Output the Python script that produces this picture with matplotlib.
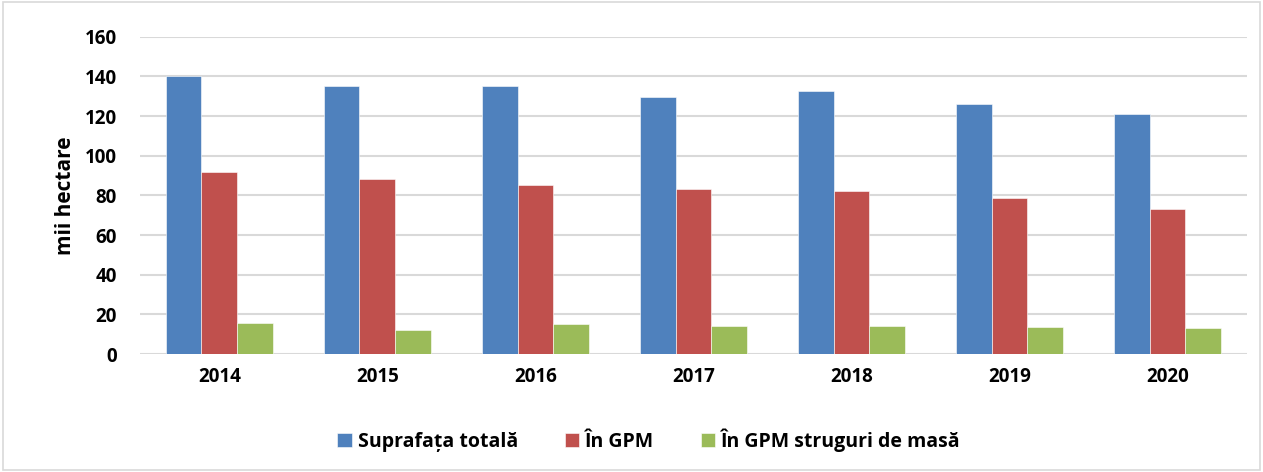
import numpy as np
from matplotlib import pyplot as plt
from matplotlib.patches import Rectangle

years = ['2014', '2015', '2016', '2017', '2018', '2019', '2020']
suprafata = [140.3, 135.1, 135.0, 129.4, 132.8, 125.9, 121.1]
in_gpm = [91.7, 88.5, 85.4, 83.2, 82.2, 78.9, 73.3]
gpm_masa = [15.5, 12.1, 15.1, 14.3, 14.0, 13.6, 13.1]
names = ['Suprafața totală', 'În GPM', 'În GPM struguri de masă']
colors = ['#4F81BD', '#C0504D', '#9BBB59']

plt.rcParams['font.family'] = ['Open Sans', 'DejaVu Sans']
plt.rcParams['font.weight'] = 'bold'

fig = plt.figure(figsize=(12.63, 4.72), dpi=100)
ax = fig.add_axes([0.111, 0.25, 0.876, 0.672])

x = np.arange(len(years))
w = 0.225
for i, vals in enumerate([suprafata, in_gpm, gpm_masa]):
    ax.bar(x + (i - 1) * w, vals, w, color=colors[i], label=names[i], zorder=3,
           edgecolor='white', linewidth=0.4)

ax.set_xlim(-0.5, len(years) - 0.5)
ax.set_ylim(0, 160)
ax.set_yticks(range(0, 161, 20))
ax.set_xticks(x)
ax.set_xticklabels(years, fontweight='bold')
for t in ax.get_yticklabels():
    t.set_fontweight('bold')
ax.grid(axis='y', color='#d9d9d9', linewidth=1.5, zorder=0)
for s in ax.spines.values():
    s.set_visible(False)
ax.tick_params(axis='both', length=0, labelsize=13.5, pad=9)
ax.tick_params(axis='y', pad=17)
ax.set_ylabel('mii hectare', fontsize=15, fontweight='bold', labelpad=6)

leg = ax.legend(loc='upper center', bbox_to_anchor=(0.46, -0.18), ncol=3, frameon=False,
                handlelength=0.75, handleheight=0.75, columnspacing=2.4,
                handletextpad=0.3, prop={'weight': 'bold', 'size': 14})

fig.patches.append(Rectangle((0.002, 0.004), 0.996, 0.992, transform=fig.transFigure,
                             fill=False, edgecolor='#d9d9d9', linewidth=1.2))

plt.savefig('out.png', dpi=100)
